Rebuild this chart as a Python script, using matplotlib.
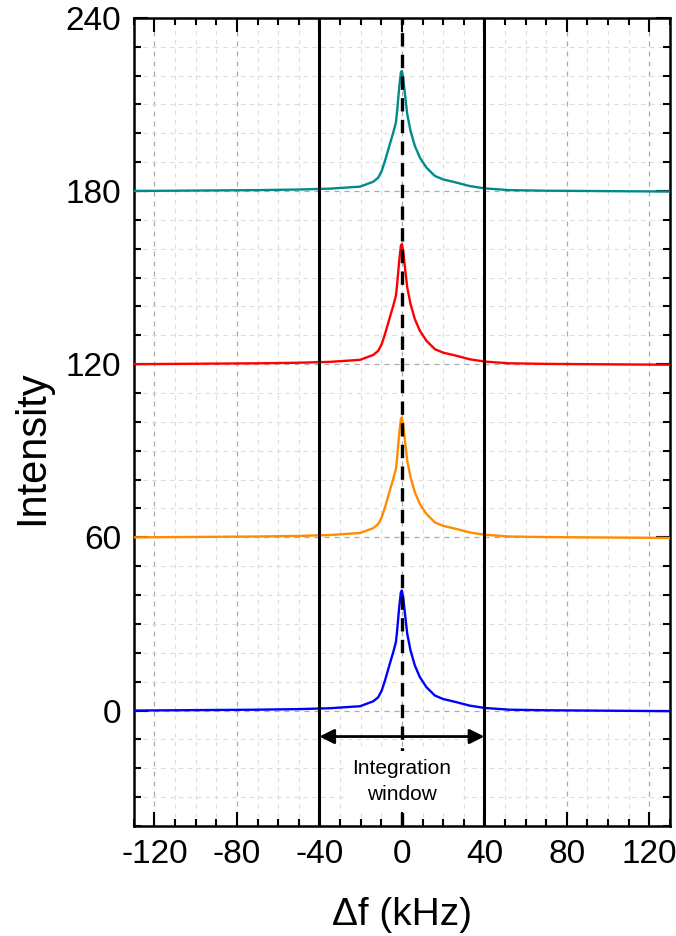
import numpy as np
import matplotlib.pyplot as plt
from matplotlib.ticker import MultipleLocator

plt.rcParams['font.family'] = ['Liberation Sans', 'DejaVu Sans']
plt.rcParams['axes.unicode_minus'] = False

# line profile relative to its baseline, x in kHz
freq = [-130, -110, -90, -70, -50, -35, -20.3, -13.9, -11.5, -9.8, -8.2, -6.1, -4.2,
        -2.9, -2.3, -1.3, -0.5, 0, 0.6, 1.5, 2.6, 4.2, 6.3, 8.7, 11.9, 16.0, 20.0,
        26.5, 32.9, 40.2, 52, 70, 90, 110, 130]
profile = [0.0, 0.1, 0.2, 0.3, 0.5, 0.8, 1.5, 3.2, 4.6, 6.9, 10.4, 15.6, 20.2,
           23.7, 27.7, 35.8, 41.0, 41.6, 39.3, 33.5, 26.6, 20.8, 15.6, 11.6, 8.1, 5.2, 4.0,
           2.9, 1.7, 0.9, 0.3, 0.1, 0.0, -0.1, -0.2]

offsets = [0, 60, 120, 180]
colors = ['#0000ff', '#ff8c00', '#ff0000', '#008b8b']
window = [-40, 40]

fig = plt.figure(figsize=(6.76, 9.36), dpi=100)
ax = fig.add_axes([0.198, 0.1175, 0.793, 0.8635])

ax.set_xlim(-130, 130)
ax.set_ylim(-40, 240)

ax.xaxis.set_major_locator(MultipleLocator(40))
ax.xaxis.set_minor_locator(MultipleLocator(10))
ax.yaxis.set_major_locator(MultipleLocator(60))
ax.yaxis.set_minor_locator(MultipleLocator(10))

ax.grid(True, which='minor', color='#dddddd', linestyle=(0, (4, 4)), linewidth=0.8)
ax.grid(True, which='major', color='#aaaaaa', linestyle=(0, (4, 4)), linewidth=0.9)
ax.set_axisbelow(True)

x = np.array(freq)
for off, c in zip(offsets, colors):
    ax.plot(x, np.array(profile) + off, color=c, linewidth=1.7, zorder=3)

for w in window:
    ax.axvline(w, color='black', linewidth=2.2, zorder=4)

ax.text(0, -24.5, 'Integration\nwindow', ha='center', va='center', fontsize=15,
        linespacing=1.45, zorder=5,
        bbox=dict(facecolor='white', edgecolor='none', pad=6))
ax.axvline(0, color='black', linewidth=2.4, linestyle=(0, (4, 2.5)), zorder=4)

ax.annotate('', xy=(window[0], -9), xytext=(window[1], -9),
            arrowprops=dict(arrowstyle='<|-|>', color='black', lw=2,
                            mutation_scale=22, shrinkA=0, shrinkB=0), zorder=6)

for s in ax.spines.values():
    s.set_linewidth(1.8)

ax.tick_params(which='both', direction='in', top=True, right=True, width=1.5,
               labelsize=24, colors='black')
ax.tick_params(which='major', length=10, pad=9)
ax.tick_params(which='minor', length=5)

ax.set_xlabel('Δf (kHz)', fontsize=28, labelpad=20)
ax.set_ylabel('Intensity', fontsize=30)
ax.yaxis.set_label_coords(-0.152, 0.468)

fig.savefig('out.png', dpi=100)
